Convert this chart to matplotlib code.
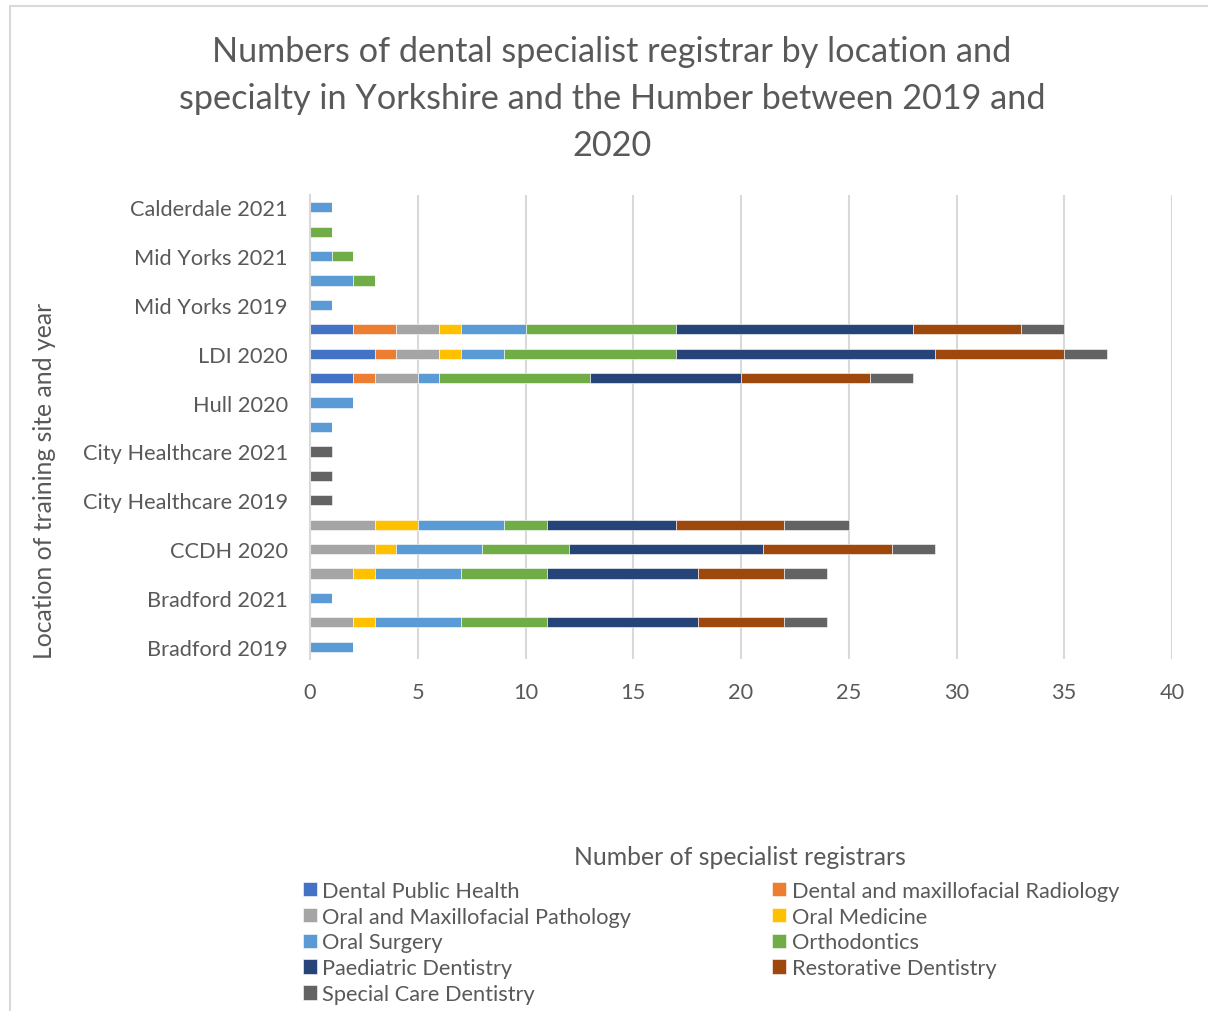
import matplotlib
matplotlib.use("Agg")
import matplotlib.pyplot as plt
from matplotlib.patches import Rectangle
import numpy as np

plt.rcParams['font.family'] = ['Lato', 'DejaVu Sans']

categories = [
    "Bradford 2019", "Bradford 2020", "Bradford 2021",
    "CCDH 2019", "CCDH 2020", "CCDH 2021",
    "City Healthcare 2019", "City Healthcare 2020", "City Healthcare 2021",
    "Hull 2019", "Hull 2020",
    "LDI 2019", "LDI 2020", "LDI 2021",
    "Mid Yorks 2019", "Mid Yorks 2020", "Mid Yorks 2021",
    "Calderdale 2020", "Calderdale 2021",
]

dental_public_health = [0, 0, 0, 0, 0, 0, 0, 0, 0, 0, 0, 2, 3, 2, 0, 0, 0, 0, 0]
dmf_radiology        = [0, 0, 0, 0, 0, 0, 0, 0, 0, 0, 0, 1, 1, 2, 0, 0, 0, 0, 0]
omf_pathology        = [0, 2, 0, 2, 3, 3, 0, 0, 0, 0, 0, 2, 2, 2, 0, 0, 0, 0, 0]
oral_medicine        = [0, 1, 0, 1, 1, 2, 0, 0, 0, 0, 0, 0, 1, 1, 0, 0, 0, 0, 0]
oral_surgery         = [2, 4, 1, 4, 4, 4, 0, 0, 0, 1, 2, 1, 2, 3, 1, 2, 1, 0, 1]
orthodontics         = [0, 4, 0, 4, 4, 2, 0, 0, 0, 0, 0, 7, 8, 7, 0, 1, 1, 1, 0]
paediatric           = [0, 7, 0, 7, 9, 6, 0, 0, 0, 0, 0, 7, 12, 11, 0, 0, 0, 0, 0]
restorative          = [0, 4, 0, 4, 6, 5, 0, 0, 0, 0, 0, 6, 6, 5, 0, 0, 0, 0, 0]
special_care         = [0, 2, 0, 2, 2, 3, 1, 1, 1, 0, 0, 2, 2, 2, 0, 0, 0, 0, 0]

series_names = [
    "Dental Public Health", "Dental and maxillofacial Radiology",
    "Oral and Maxillofacial Pathology", "Oral Medicine", "Oral Surgery",
    "Orthodontics", "Paediatric Dentistry", "Restorative Dentistry",
    "Special Care Dentistry",
]
series_values = [dental_public_health, dmf_radiology, omf_pathology, oral_medicine,
                 oral_surgery, orthodontics, paediatric, restorative, special_care]
colors = ["#4472C4", "#ED7D31", "#A5A5A5", "#FFC000", "#5B9BD5",
          "#70AD47", "#264478", "#9E480E", "#636363"]

x_ticks = [0, 5, 10, 15, 20, 25, 30, 35, 40]

TXT = "#595959"
W, H = 1208, 1012
fig = plt.figure(figsize=(W / 100, H / 100), dpi=100)

# chart border
fig.patches.append(Rectangle((10 / W, -0.01), 1.02, 1 - 7 / H + 0.01,
                             transform=fig.transFigure, fill=False,
                             edgecolor="#D9D9D9", linewidth=1.5))

ax = fig.add_axes([310 / W, 1 - 660 / H, (1172 - 310) / W, (660 - 196) / H])
y = np.arange(len(categories))
left = np.zeros(len(categories))
handles = []
for name, vals, c in zip(series_names, series_values, colors):
    v = np.array(vals, dtype=float)
    b = ax.barh(y, v, left=left, height=0.42, color=c, edgecolor="white",
                linewidth=0.4, label=name, zorder=3)
    handles.append(b)
    left += v

ax.set_xlim(0, 40)
ax.set_ylim(-0.5, len(categories) - 0.5)
ax.set_xticks(x_ticks)
ax.set_xticklabels([str(t) for t in x_ticks])
ax.set_yticks(y[::2])
ax.set_yticklabels(categories[::2])
ax.tick_params(axis="both", length=0, colors=TXT, labelsize=15.7)
ax.tick_params(axis="x", pad=16.5)
ax.tick_params(axis="y", pad=16)
ax.grid(axis="x", color="#D9D9D9", linewidth=1.5, zorder=0)
for s in ["top", "right", "bottom"]:
    ax.spines[s].set_visible(False)
ax.spines["left"].set_color("#D9D9D9")
ax.spines["left"].set_linewidth(1.5)
ax.spines["left"].set_zorder(4)

fig.text(612 / W, 1 - 99 / H,
         "Numbers of dental specialist registrar by location and\n"
         "specialty in Yorkshire and the Humber between 2019 and\n2020",
         ha="center", va="center", fontsize=24.7, color=TXT, linespacing=1.56)

fig.text(45 / W, 1 - 481 / H, "Location of training site and year",
         rotation=90, ha="center", va="center", fontsize=17.8, color=TXT)

fig.text(740 / W, 1 - 858 / H, "Number of specialist registrars",
         ha="center", va="center", fontsize=17.8, color=TXT)

order = [0, 2, 4, 6, 8, 1, 3, 5, 7]
leg = fig.legend(handles=[handles[i] for i in order],
                 labels=[series_names[i] for i in order], ncol=2,
                 loc="upper left", bbox_to_anchor=(294 / W, 1 - 873 / H),
                 frameon=False, fontsize=15.7, labelcolor=TXT,
                 handlelength=0.65, handleheight=0.65, handletextpad=0.25,
                 columnspacing=6.45, labelspacing=0.27, borderaxespad=0)

fig.savefig("out.png", dpi=100, facecolor="white")
